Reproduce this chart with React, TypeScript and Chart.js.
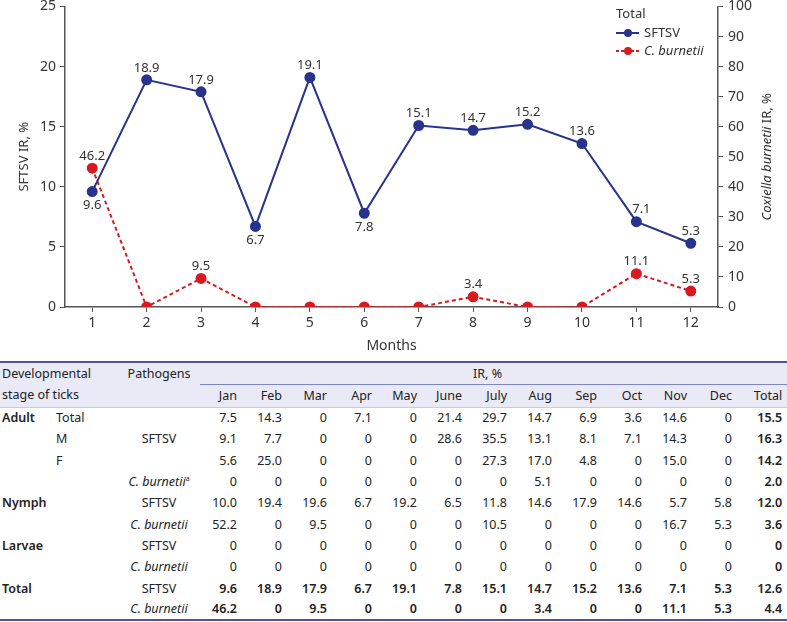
import React, { useEffect, useRef } from "react";
import { Chart, registerables } from "chart.js";

Chart.register(...registerables);

const months = ["1", "2", "3", "4", "5", "6", "7", "8", "9", "10", "11", "12"];
const monthNames = ["Jan", "Feb", "Mar", "Apr", "May", "June", "July", "Aug", "Sep", "Oct", "Nov", "Dec"];

const sftsvTotal = [9.6, 18.9, 17.9, 6.7, 19.1, 7.8, 15.1, 14.7, 15.2, 13.6, 7.1, 5.3];
const cbTotal = [46.2, 0, 9.5, 0, 0, 0, 0, 3.4, 0, 0, 11.1, 5.3];

const adultTotal = [7.5, 14.3, 0, 7.1, 0, 21.4, 29.7, 14.7, 6.9, 3.6, 14.6, 0];
const adultM = [9.1, 7.7, 0, 0, 0, 28.6, 35.5, 13.1, 8.1, 7.1, 14.3, 0];
const adultF = [5.6, 25.0, 0, 0, 0, 0, 27.3, 17.0, 4.8, 0, 15.0, 0];
const adultCb = [0, 0, 0, 0, 0, 0, 0, 5.1, 0, 0, 0, 0];
const nymphSftsv = [10.0, 19.4, 19.6, 6.7, 19.2, 6.5, 11.8, 14.6, 17.9, 14.6, 5.7, 5.8];
const nymphCb = [52.2, 0, 9.5, 0, 0, 0, 10.5, 0, 0, 0, 16.7, 5.3];
const larvaeSftsv = [0, 0, 0, 0, 0, 0, 0, 0, 0, 0, 0, 0];
const larvaeCb = [0, 0, 0, 0, 0, 0, 0, 0, 0, 0, 0, 0];
const rowTotals = [15.5, 16.3, 14.2, 2.0, 12.0, 3.6, 0, 0, 12.6, 4.4];

const leftTicks = [0, 5, 10, 15, 20, 25];
const rightTicks = [0, 10, 20, 30, 40, 50, 60, 70, 80, 90, 100];

const BLUE = "#27338c";
const RED = "#d81920";
const FONT = '"Noto Sans", sans-serif';
const TEXT = "#333333";
const AXIS = "#555555";

const fmt = (v: number) => (v === 0 ? "0" : v.toFixed(1));

const overlayPlugin = {
  id: "overlay",
  afterDraw(chart: any) {
    const ctx = chart.ctx;
    const area = chart.chartArea;
    ctx.save();
    // data labels
    ctx.font = `13px ${FONT}`;
    ctx.fillStyle = TEXT;
    ctx.textAlign = "center";
    ctx.textBaseline = "middle";
    chart.data.datasets.forEach((ds: any, di: number) => {
      const meta = chart.getDatasetMeta(di);
      const vals = ds.data as number[];
      meta.data.forEach((pt: any, i: number) => {
        const v = vals[i];
        if (v === 0) return;
        let below = false;
        if (di === 0) {
          const prev = i > 0 ? vals[i - 1] : Infinity;
          const next = i < vals.length - 1 ? vals[i + 1] : -Infinity;
          below = v < next - 2 && v < prev - 2;
        }
        const dx = di === 0 && i === 10 ? 5 : 0;
        ctx.fillText(fmt(v), pt.x + dx, below ? pt.y + 14 : pt.y - 12);
      });
    });
    // axis titles
    ctx.font = `13px ${FONT}`;
    ctx.save();
    ctx.translate(24, (area.top + area.bottom) / 2);
    ctx.rotate(-Math.PI / 2);
    ctx.fillText("SFTSV IR, %", 0, 0);
    ctx.restore();

    ctx.save();
    ctx.translate(767, (area.top + area.bottom) / 2);
    ctx.rotate(-Math.PI / 2);
    const italic = `italic 13px ${FONT}`;
    const normal = `13px ${FONT}`;
    const p1 = "Coxiella burnetii";
    const p2 = " IR, %";
    ctx.font = italic;
    const w1 = ctx.measureText(p1).width;
    ctx.font = normal;
    const w2 = ctx.measureText(p2).width;
    ctx.textAlign = "left";
    let x0 = -(w1 + w2) / 2;
    ctx.font = italic;
    ctx.fillText(p1, x0, 0);
    ctx.font = normal;
    ctx.fillText(p2, x0 + w1, 0);
    ctx.restore();

    ctx.font = `14px ${FONT}`;
    ctx.textAlign = "center";
    ctx.fillText("Months", (area.left + area.right) / 2, 346);

    // legend
    ctx.textAlign = "left";
    ctx.font = `13px ${FONT}`;
    ctx.fillText("Total", 616, 14);
    const items = [
      { label: "SFTSV", color: BLUE, dash: [] as number[], italic: false, y: 33 },
      { label: "C. burnetii", color: RED, dash: [3, 2], italic: true, y: 51 },
    ];
    items.forEach((it) => {
      ctx.strokeStyle = it.color;
      ctx.lineWidth = 2;
      ctx.setLineDash(it.dash);
      ctx.beginPath();
      ctx.moveTo(616, it.y);
      ctx.lineTo(639, it.y);
      ctx.stroke();
      ctx.setLineDash([]);
      ctx.fillStyle = it.color;
      ctx.beginPath();
      ctx.arc(628, it.y, 4, 0, Math.PI * 2);
      ctx.fill();
      ctx.fillStyle = TEXT;
      ctx.font = it.italic ? `italic 13px ${FONT}` : `13px ${FONT}`;
      ctx.fillText(it.label, 644, it.y);
    });
    ctx.restore();
  },
};

function ChartBox() {
  const ref = useRef<HTMLCanvasElement>(null);
  useEffect(() => {
    if (!ref.current) return;
    const tickFont = { family: FONT, size: 14 };
    const chart = new Chart(ref.current, {
      type: "line",
      data: {
        labels: months,
        datasets: [
          {
            label: "SFTSV",
            data: sftsvTotal,
            yAxisID: "y",
            borderColor: BLUE,
            backgroundColor: BLUE,
            pointBackgroundColor: BLUE,
            pointBorderColor: BLUE,
            pointRadius: 4.5,
            borderWidth: 2,
            tension: 0,
          },
          {
            label: "C. burnetii",
            data: cbTotal,
            yAxisID: "y1",
            borderColor: RED,
            backgroundColor: RED,
            pointBackgroundColor: RED,
            pointBorderColor: RED,
            pointRadius: 4.5,
            borderWidth: 2,
            borderDash: [4, 3],
            tension: 0,
          },
        ],
      },
      options: {
        responsive: false,
        animation: false,
        layout: { padding: { top: 6, left: 0, right: 0, bottom: 0 } },
        plugins: { legend: { display: false }, tooltip: { enabled: false } },
        scales: {
          x: {
            offset: true,
            grid: { drawOnChartArea: false, drawTicks: true, tickLength: 5, color: AXIS, lineWidth: 1 },
            border: { color: AXIS, width: 1.5 },
            ticks: { font: tickFont, color: TEXT, padding: 3 },
            afterFit: (s: any) => {
              s.height = 53;
              s.paddingLeft = 0;
              s.paddingRight = 0;
            },
          },
          y: {
            position: "left",
            min: 0,
            max: 25,
            afterBuildTicks: (s: any) => {
              s.ticks = leftTicks.map((v) => ({ value: v }));
            },
            grid: { drawOnChartArea: false, drawTicks: true, tickLength: 5, color: AXIS },
            border: { color: AXIS, width: 1.5 },
            ticks: { font: tickFont, color: TEXT, padding: 4 },
            afterFit: (s: any) => {
              s.width = 65;
              s.paddingTop = 0;
              s.paddingBottom = 0;
            },
          },
          y1: {
            position: "right",
            min: 0,
            max: 100,
            afterBuildTicks: (s: any) => {
              s.ticks = rightTicks.map((v) => ({ value: v }));
            },
            grid: { drawOnChartArea: false, drawTicks: true, tickLength: 5, color: AXIS },
            border: { color: AXIS, width: 1.5 },
            ticks: { font: tickFont, color: TEXT, padding: 5 },
            afterFit: (s: any) => {
              s.width = 69;
              s.paddingTop = 0;
              s.paddingBottom = 0;
            },
          },
        },
      },
      plugins: [overlayPlugin],
    } as any);
    return () => chart.destroy();
  }, []);
  return <canvas ref={ref} width={787} height={360} style={{ display: "block" }} />;
}

type Row = { stage: string; sex: string; path: React.ReactNode; vals: number[]; total: number; bold: boolean };

const ital = (s: string, sup?: string) => (
  <span>
    <i>{s}</i>
    {sup ? <sup style={{ fontSize: "7px" }}>{sup}</sup> : null}
  </span>
);

const rows: Row[] = [
  { stage: "Adult", sex: "Total", path: "", vals: adultTotal, total: rowTotals[0], bold: false },
  { stage: "", sex: "M", path: "SFTSV", vals: adultM, total: rowTotals[1], bold: false },
  { stage: "", sex: "F", path: "", vals: adultF, total: rowTotals[2], bold: false },
  { stage: "", sex: "", path: ital("C. burnetii", "a"), vals: adultCb, total: rowTotals[3], bold: false },
  { stage: "Nymph", sex: "", path: "SFTSV", vals: nymphSftsv, total: rowTotals[4], bold: false },
  { stage: "", sex: "", path: ital("C. burnetii"), vals: nymphCb, total: rowTotals[5], bold: false },
  { stage: "Larvae", sex: "", path: "SFTSV", vals: larvaeSftsv, total: rowTotals[6], bold: false },
  { stage: "", sex: "", path: ital("C. burnetii"), vals: larvaeCb, total: rowTotals[7], bold: false },
  { stage: "Total", sex: "", path: "SFTSV", vals: sftsvTotal, total: rowTotals[8], bold: true },
  { stage: "", sex: "", path: ital("C. burnetii"), vals: cbTotal, total: rowTotals[9], bold: true },
];

function DataTable() {
  const cell: React.CSSProperties = { padding: "0 8px 0 0", textAlign: "right", whiteSpace: "nowrap" };
  const headBg = "#e9eaf5";
  return (
    <table
      style={{
        borderCollapse: "collapse",
        tableLayout: "fixed",
        width: 787,
        fontFamily: FONT,
        fontSize: "12.5px",
        color: "#222",
        borderTop: "2px solid #4d539c",
        borderBottom: "2px solid #4d539c",
      }}
    >
      <colgroup>
        <col style={{ width: 56 }} />
        <col style={{ width: 62 }} />
        <col style={{ width: 82 }} />
        {monthNames.map((m) => (
          <col key={m} style={{ width: 45 }} />
        ))}
        <col style={{ width: 47 }} />
      </colgroup>
      <thead>
        <tr style={{ height: 22, background: headBg }}>
          <th
            colSpan={2}
            rowSpan={2}
            style={{ textAlign: "left", fontWeight: 400, verticalAlign: "top", padding: "0 0 0 2px", lineHeight: "21px", borderBottom: "1px solid #c9cbe3" }}
          >
            Developmental
            <br />
            stage of ticks
          </th>
          <th rowSpan={2} style={{ textAlign: "center", fontWeight: 400, verticalAlign: "top", padding: 0, lineHeight: "21px", borderBottom: "1px solid #c9cbe3" }}>
            Pathogens
          </th>
          <th colSpan={13} style={{ textAlign: "center", fontWeight: 400, padding: "0 12px 0 0", borderBottom: "1.5px solid #7d87c4" }}>
            IR, %
          </th>
        </tr>
        <tr style={{ height: 23, background: headBg }}>
          {monthNames.map((m) => (
            <th key={m} style={{ ...cell, fontWeight: 400, borderBottom: "1px solid #c9cbe3" }}>
              {m}
            </th>
          ))}
          <th style={{ ...cell, paddingRight: 5, fontWeight: 400, borderBottom: "1px solid #c9cbe3" }}>Total</th>
        </tr>
      </thead>
      <tbody>
        {rows.map((r, ri) => (
          <tr key={ri} style={{ height: 21.3 }}>
            <td style={{ padding: "0 0 0 2px", fontWeight: 600 }}>{r.stage}</td>
            <td style={{ padding: 0 }}>{r.sex}</td>
            <td style={{ padding: 0, textAlign: "center" }}>{r.path}</td>
            {r.vals.map((v, i) => (
              <td key={i} style={{ ...cell, fontWeight: r.bold ? 600 : 400 }}>
                {fmt(v)}
              </td>
            ))}
            <td style={{ ...cell, paddingRight: 5, fontWeight: 600 }}>{fmt(r.total)}</td>
          </tr>
        ))}
      </tbody>
    </table>
  );
}

export default function App() {
  return (
    <div style={{ position: "absolute", left: 0, top: 0, width: 787, height: 622, background: "#fff" }}>
      <ChartBox />
      <div style={{ position: "absolute", left: 0, top: 361 }}>
        <DataTable />
      </div>
    </div>
  );
}
